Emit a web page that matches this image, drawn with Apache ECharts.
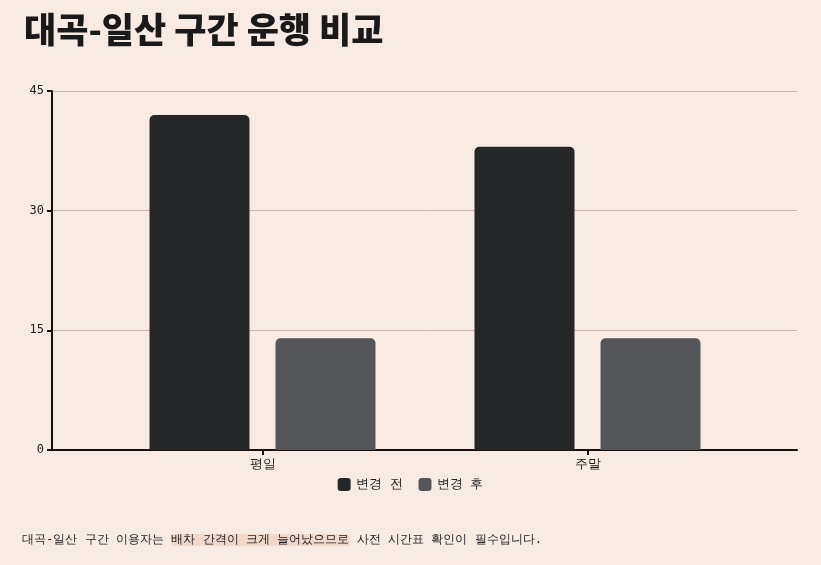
<!DOCTYPE html><html><head><meta charset="utf-8">
<script src="https://cdn.jsdelivr.net/npm/echarts@6/dist/echarts.min.js"></script>
<style>html,body{margin:0;padding:0;background:#f8ebe4}#c{width:821px;height:565px}</style></head><body><div id="c"></div>
<script>
const categories=['평일','주말'];
const seriesNames=['변경 전','변경 후'];
const before=[42,38];
const after=[14,14];
const yTicks=[0,15,30,45];
const mono='"DejaVu Sans Mono", monospace';
const c=echarts.init(document.getElementById('c'));
c.setOption({
backgroundColor:'#f8ebe4',
textStyle:{fontFamily:mono},
title:{text:'대곡-일산 구간 운행 비교',left:19,top:7,textStyle:{fontFamily:'"Noto Sans CJK KR"',fontSize:35,fontWeight:900,color:'#1a1a1a'}},
legend:{data:seriesNames,top:473,left:'center',itemWidth:13,itemHeight:13,itemGap:16,textStyle:{fontFamily:mono,fontSize:13,color:'#222'},icon:'roundRect'},
grid:[{left:52,right:24,top:91,bottom:115},{left:100,right:71,top:91,bottom:115}],
xAxis:[
{type:'category',gridIndex:0,data:categories,axisLine:{lineStyle:{color:'#1a1010',width:2}},axisTick:{show:false},axisLabel:{show:false}},
{type:'category',gridIndex:1,data:categories,axisLine:{show:false},axisTick:{show:true,alignWithLabel:true,lineStyle:{color:'#1a1010',width:2}},axisLabel:{fontFamily:mono,fontSize:13,color:'#222',margin:8}}
],
yAxis:[
{type:'value',gridIndex:0,min:yTicks[0],max:yTicks[yTicks.length-1],interval:15,axisLine:{show:true,lineStyle:{color:'#1a1010',width:2}},axisTick:{show:true,lineStyle:{color:'#1a1010',width:2}},axisLabel:{fontFamily:mono,fontSize:12,color:'#222'},splitLine:{lineStyle:{color:'#c8b8b0'}}},
{type:'value',gridIndex:1,min:yTicks[0],max:yTicks[yTicks.length-1],interval:15,show:false,splitLine:{show:false}}
],
series:[
{name:seriesNames[0],type:'bar',xAxisIndex:1,yAxisIndex:1,data:before,barWidth:100,barGap:'26%',itemStyle:{color:'#242628',borderRadius:[5,5,0,0]}},
{name:seriesNames[1],type:'bar',xAxisIndex:1,yAxisIndex:1,data:after,barWidth:100,itemStyle:{color:'#54565a',borderRadius:[5,5,0,0]}}
],
graphic:[{type:'text',left:22,top:534,style:{text:'대곡-일산 구간 이용자는 {h|배차 간격이 크게 늘어났으므로} 사전 시간표 확인이 필수입니다.',font:'12.2px "DejaVu Sans Mono", monospace',fill:'#222',rich:{h:{backgroundColor:'#f0d9cb',fontFamily:mono,fontSize:12.2,color:'#222'}}}}]
});
</script></body></html>
